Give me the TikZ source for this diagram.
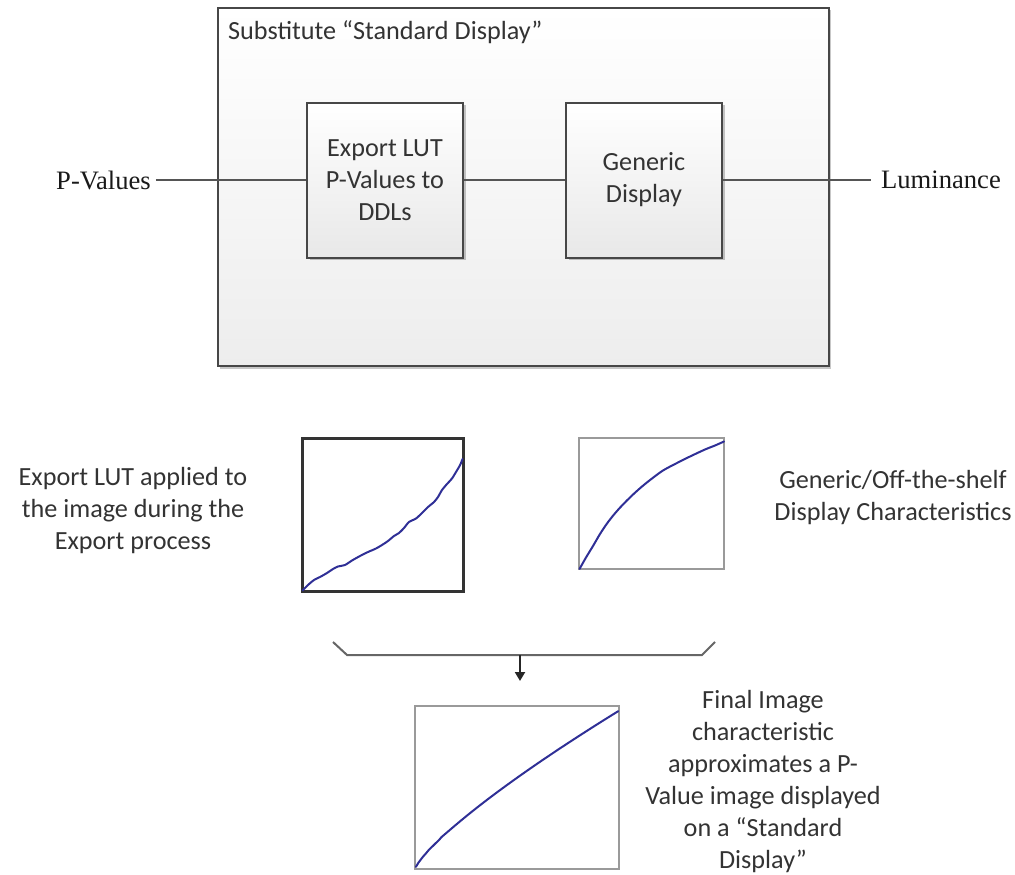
\documentclass[tikz,border=0pt]{standalone}
\usepackage{fontspec}
\setmainfont{Carlito}
\newfontfamily\serifface{Liberation Serif}
\usetikzlibrary{arrows.meta,shadows}
\definecolor{boxline}{HTML}{474747}
\definecolor{wirec}{HTML}{555555}
\definecolor{txt}{HTML}{333333}
\definecolor{curvec}{HTML}{2F2F96}
\definecolor{chartgray}{HTML}{9A9A9A}
\newcommand\calib{\fontsize{26.2}{32}\selectfont}
\newcommand\serifsz{\serifface\fontsize{26.6}{32}\selectfont}
\begin{document}
\begin{tikzpicture}[x=1pt,y=-1pt,
  softshadow/.style={drop shadow={shadow xshift=2.5pt,shadow yshift=-2.5pt,opacity=0.22,fill=black}},
  outerbox/.style={draw=boxline, line width=2pt, top color=white, bottom color=black!7, softshadow},
  blk/.style={draw=boxline, line width=2pt, top color=white, bottom color=black!9, softshadow,
    minimum width=156pt, minimum height=155pt, align=center, font=\calib, text=txt},
  wire/.style={draw=wirec, line width=2pt},
  lbl/.style={font=\calib, text=txt, align=center, inner sep=0pt},
  serlbl/.style={font=\serifsz, text=black!90, inner sep=0pt},
  chartdark/.style={draw=black!80, line width=3pt, minimum width=161pt, minimum height=153pt, inner sep=0pt},
  chartlight/.style={draw=chartgray, line width=2pt, inner sep=0pt},
  curve/.style={draw=curvec, line width=2pt, line join=round, line cap=round},
  brace/.style={draw=black!60, line width=2pt},
  arr/.style={draw=black!85, line width=2pt, -{Triangle[length=9pt,width=10pt]}}
]
\useasboundingbox (0,0) rectangle (1015,875);

% substitute display block
\node[outerbox, minimum width=611pt, minimum height=358pt] (sub) at (523,187) {};
\node[lbl, anchor=base west] (title) at (228,40) {Substitute “Standard Display”};
\node[blk] (lut) at (385,180) {Export LUT\\P-Values to\\DDLs};
\node[blk] (gen) at (644,180) {Generic\\Display};

\node[serlbl] (pv) at (103.5,180) {P-Values};
\node[serlbl] (lum) at (941,180) {Luminance};

\draw[wire] ([xshift=5pt]pv.east) -- (lut.west);
\draw[wire] (lut.east) -- (gen.west);
\draw[wire] (gen.east) -- ([xshift=-10pt]lum.west);

% export LUT curve
\node[chartdark] (c1) at (383,515) {};
\draw[curve] plot[smooth, tension=0.45] coordinates {
  (302.5,590.5) (308,585) (314,580) (320,577) (327,573) (333,569) (338,566.5) (345,565)
  (352,560.5) (360,556) (368,552) (376,548.5) (382,545) (388,541) (394,536) (399,533)
  (404,528) (409,522) (416,518.5) (422,513) (428,507) (434,502) (438,497) (442,490)
  (447,484) (452,478.5) (456,472) (459,467) (461,463) (462.5,459)};
\node[lbl] (lutnote) at (133,511) {Export LUT applied to\\the image during the\\Export process};

% generic display curve
\node[chartlight, minimum width=145pt, minimum height=131pt] (c2) at (651.8,503.8) {};
\draw[curve] plot[smooth, tension=0.5] coordinates {
  (579.5,569) (586,557.5) (593,546) (600,534) (607,523.5) (614,514.5) (622,505.5)
  (632,495.5) (642,486.5) (652,478.5) (663,470.5) (676,463.5) (690,456.5) (705,449.5)
  (715,445.5) (724,441.5)};
\node[lbl] (gennote) at (893,498) {Generic/Off-the-shelf\\Display Characteristics};

% combining bracket and arrow
\coordinate (bl) at (333,642);
\coordinate (blc) at (347,655);
\coordinate (brc) at (702,655);
\coordinate (br) at (715,642);
\coordinate (bmid) at (520,655);
\coordinate (arrend) at (520,681);
\draw[brace] (bl) -- (blc) -- (brc) -- (br);
\draw[arr] (bmid) -- (arrend);

% resulting characteristic: gentle power-law response
\node[chartlight, minimum width=204pt, minimum height=163pt] (c3) at (517,787.5) {};
\draw[curve] plot[domain=0.002:1, samples=80, smooth]
  ({415.5+203*\x}, {868-157*(\x^0.8)});
\node[lbl] (finalnote) at (763,782) {Final Image\\characteristic\\approximates a P-\\Value image displayed\\on a “Standard\\Display”};
\end{tikzpicture}
\end{document}
